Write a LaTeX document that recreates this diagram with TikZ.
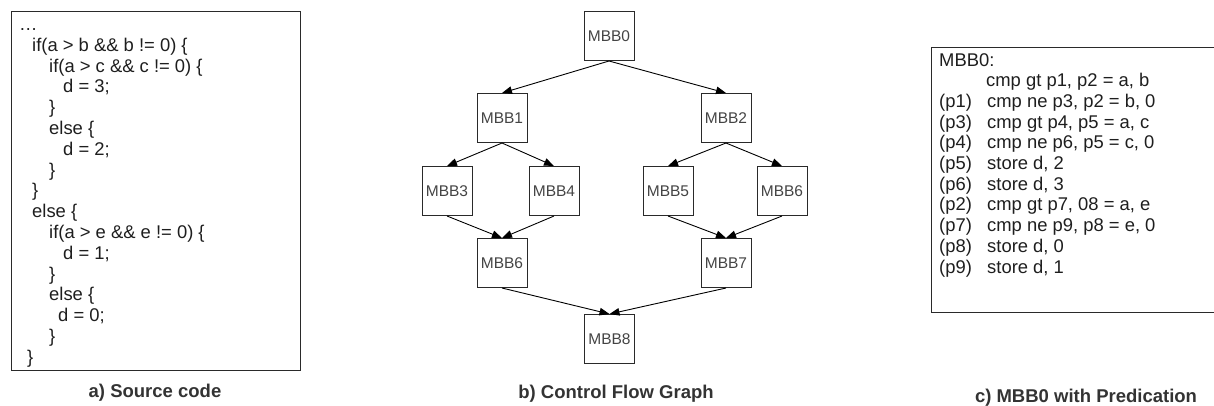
\documentclass[tikz,border=0pt]{standalone}
\usepackage{fontspec}
\setmainfont{Liberation Sans}
\usetikzlibrary{arrows.meta}
\definecolor{txtc}{HTML}{1E1E1E}
\definecolor{lblc}{HTML}{444444}
\definecolor{capc}{HTML}{333333}
\definecolor{linec}{HTML}{2A2A2A}
\tikzset{
  boxline/.style={draw=linec, line width=1pt},
  code/.style={anchor=base west, inner sep=0pt, text=txtc, font=\fontsize{18.4pt}{21pt}\selectfont},
  mbb/.style={draw=linec, line width=1pt, minimum width=50pt, minimum height=49pt, inner sep=0pt, text=lblc, font=\fontsize{15.5pt}{18pt}\selectfont},
  flow/.style={draw=black, line width=0.9pt, -{Triangle[length=10pt,width=7.5pt]}},
  capt/.style={anchor=base, inner sep=0pt, text=capc, font=\bfseries\fontsize{18.5pt}{21pt}\selectfont}
}
\begin{document}
\begin{tikzpicture}[x=1pt,y=-1pt]
\useasboundingbox (0,0) rectangle (1214,405);
% a) source code
\draw[boxline] (11,11) rectangle (300,370.7);
\node[code] (c1) at (19,30.5) {…};
\node[code] (c2) at (32,51.3) {if(a > b \&\& b != 0) \{};
\node[code] (c3) at (49,72.1) {if(a > c \&\& c != 0) \{};
\node[code] (c4) at (63,92.9) {d = 3;};
\node[code] (c5) at (49,113.7) {\}};
\node[code] (c6) at (49,134.5) {else \{};
\node[code] (c7) at (63,155.3) {d = 2;};
\node[code] (c8) at (49,176.1) {\}};
\node[code] (c9) at (32,196.9) {\}};
\node[code] (c10) at (32,217.7) {else \{};
\node[code] (c11) at (49,238.5) {if(a > e \&\& e != 0) \{};
\node[code] (c12) at (63,259.3) {d = 1;};
\node[code] (c13) at (49,280.1) {\}};
\node[code] (c14) at (49,300.9) {else \{};
\node[code] (c15) at (58,321.7) {d = 0;};
\node[code] (c16) at (49,342.5) {\}};
\node[code] (c17) at (27,363.3) {\}};
\node[capt] (capa) at (155,397.5) {a) Source code};
% b) control flow graph
\node[mbb] (m0) at (609,36) {MBB0};
\node[mbb] (m1) at (502,118) {MBB1};
\node[mbb] (m2) at (726,118) {MBB2};
\node[mbb] (m3) at (447,191) {MBB3};
\node[mbb] (m4) at (554,191) {MBB4};
\node[mbb] (m5) at (668,191) {MBB5};
\node[mbb] (m6r) at (782,191) {MBB6};
\node[mbb] (m6) at (502,263) {MBB6};
\node[mbb] (m7) at (726,263) {MBB7};
\node[mbb] (m8) at (609.5,339) {MBB8};
\draw[flow] (m0.south) -- (m1.north);
\draw[flow] (m0.south) -- (m2.north);
\draw[flow] (m1.south) -- (m3.north);
\draw[flow] (m1.south) -- (m4.north);
\draw[flow] (m2.south) -- (m5.north);
\draw[flow] (m2.south) -- (m6r.north);
\draw[flow] (m3.south) -- (m6.north);
\draw[flow] (m4.south) -- (m6.north);
\draw[flow] (m5.south) -- (m7.north);
\draw[flow] (m6r.south) -- (m7.north);
\draw[flow] (m6.south) -- (m8.north);
\draw[flow] (m7.south) -- (m8.north);
\node[capt] (capb) at (616,398) {b) Control Flow Graph};
% c) MBB0 with predication
\draw[boxline] (931.7,47.7) rectangle (1218,312.7);
\node[code] (r0) at (939,66) {MBB0:};
\node[code] (r1) at (986,86.7) {cmp gt p1, p2 = a, b};
\node[code] (p1) at (939,107.4) {(p1)};
\node[code] (i1) at (987,107.4) {cmp ne p3, p2 = b, 0};
\node[code] (p3) at (939,128.1) {(p3)};
\node[code] (i3) at (987,128.1) {cmp gt p4, p5 = a, c};
\node[code] (p4) at (939,148.8) {(p4)};
\node[code] (i4) at (987,148.8) {cmp ne p6, p5 = c, 0};
\node[code] (p5) at (939,169.5) {(p5)};
\node[code] (i5) at (987,169.5) {store d, 2};
\node[code] (p6) at (939,190.2) {(p6)};
\node[code] (i6) at (987,190.2) {store d, 3};
\node[code] (p2) at (939,210.9) {(p2)};
\node[code] (i2) at (987,210.9) {cmp gt p7, 08 = a, e};
\node[code] (p7) at (939,231.6) {(p7)};
\node[code] (i7) at (987,231.6) {cmp ne p9, p8 = e, 0};
\node[code] (p8) at (939,252.3) {(p8)};
\node[code] (i8) at (987,252.3) {store d, 0};
\node[code] (p9) at (939,273) {(p9)};
\node[code] (i9) at (987,273) {store d, 1};
\node[capt] (capc) at (1086,402.5) {c) MBB0 with Predication};
\end{tikzpicture}
\end{document}
